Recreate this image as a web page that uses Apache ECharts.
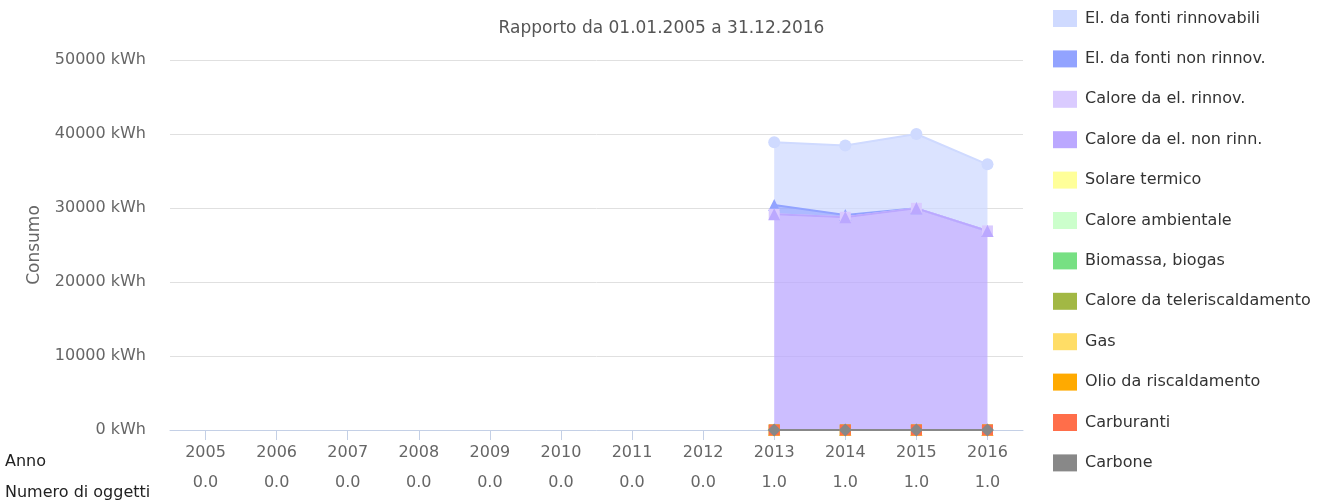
<!DOCTYPE html>
<html>
<head>
<meta charset="utf-8">
<script src="https://cdn.jsdelivr.net/npm/echarts@6/dist/echarts.min.js"></script>
<style>
  html, body { margin: 0; padding: 0; background: #fff; }
  #chart { width: 1323px; height: 502px; }
</style>
</head>
<body>
<div id="chart"></div>
<script>
// categories
const years = ['2005', '2006', '2007', '2008', '2009', '2010', '2011', '2012', '2013', '2014', '2015', '2016']
const objectCounts = [0, 0, 0, 0, 0, 0, 0, 0, 1, 1, 1, 1]

// series values (kWh), null where no data
const elRinnovabili = [null, null, null, null, null, null, null, null, 8500, 9400, 10050, 9000]
const elNonRinnov = [null, null, null, null, null, null, null, null, 1250, 300, 0, 0]
const caloreElRinnov = [null, null, null, null, null, null, null, null, 0, 0, 0, 0]
const caloreElNonRinn = [null, null, null, null, null, null, null, null, 29150, 28750, 29950, 26900]
const solareTermico = [null, null, null, null, null, null, null, null, 0, 0, 0, 0]
const caloreAmbientale = [null, null, null, null, null, null, null, null, 0, 0, 0, 0]
const biomassa = [null, null, null, null, null, null, null, null, 0, 0, 0, 0]
const teleriscaldamento = [null, null, null, null, null, null, null, null, 0, 0, 0, 0]
const gas = [null, null, null, null, null, null, null, null, 0, 0, 0, 0]
const olio = [null, null, null, null, null, null, null, null, 0, 0, 0, 0]
const carburanti = [null, null, null, null, null, null, null, null, 0, 0, 0, 0]
const carbone = [null, null, null, null, null, null, null, null, 0, 0, 0, 0]

const yTicks = [0, 10000, 20000, 30000, 40000, 50000]

const font = 'DejaVu Sans'

const seriesDefs = [
  { name: 'El. da fonti rinnovabili', data: elRinnovabili, color: '#cfdaff', symbol: 'circle', size: 12 },
  { name: 'El. da fonti non rinnov.', data: elNonRinnov, color: '#92a3ff', symbol: 'triangle', size: 12 },
  { name: 'Calore da el. rinnov.', data: caloreElRinnov, color: '#dacbff', symbol: 'rect', size: 11 },
  { name: 'Calore da el. non rinn.', data: caloreElNonRinn, color: '#bba8ff', symbol: 'triangle', size: 12 },
  { name: 'Solare termico', data: solareTermico, color: '#ffff99', symbol: 'circle', size: 11 },
  { name: 'Calore ambientale', data: caloreAmbientale, color: '#ccffcc', symbol: 'diamond', size: 12 },
  { name: 'Biomassa, biogas', data: biomassa, color: '#77e083', symbol: 'rect', size: 11 },
  { name: 'Calore da teleriscaldamento', data: teleriscaldamento, color: '#a2b844', symbol: 'triangle', size: 12 },
  { name: 'Gas', data: gas, color: '#ffdd66', symbol: 'triangle', size: 12 },
  { name: 'Olio da riscaldamento', data: olio, color: '#ffaa00', symbol: 'rect', size: 11 },
  { name: 'Carburanti', data: carburanti, color: '#ff6e4a', symbol: 'rect', size: 11 },
  { name: 'Carbone', data: carbone, color: '#888888', symbol: 'diamond', size: 13 }
]

const chart = echarts.init(document.getElementById('chart'))
chart.setOption({
  animation: false,
  textStyle: { fontFamily: font },
  title: {
    text: 'Rapporto da 01.01.2005 a 31.12.2016',
    left: 'center',
    top: 20,
    padding: 0,
    textStyle: { fontFamily: font, fontSize: 17, fontWeight: 'normal', color: '#555' }
  },
  legend: {
    orient: 'vertical',
    left: 1053,
    top: 10,
    padding: 0,
    icon: 'rect',
    itemWidth: 24,
    itemHeight: 17,
    itemGap: 23.4,
    textStyle: { fontFamily: font, fontSize: 16, color: '#333', lineHeight: 17, padding: [0, 0, 0, 3] },
    data: seriesDefs.map(s => s.name)
  },
  grid: { left: 170, right: 300, top: 60, bottom: 72 },
  xAxis: {
    type: 'category',
    data: years,
    boundaryGap: true,
    axisLine: { lineStyle: { color: '#c4d0e6', width: 1 } },
    axisTick: { show: true, alignWithLabel: true, length: 10, lineStyle: { color: '#c4d0e6', width: 1 } },
    axisLabel: {
      margin: 8,
      interval: 0,
      color: '#666',
      fontSize: 16,
      lineHeight: 30,
      formatter: (v, i) => v + '\n' + objectCounts[i].toFixed(1)
    }
  },
  yAxis: {
    type: 'value',
    min: yTicks[0],
    max: yTicks[yTicks.length - 1],
    interval: 10000,
    name: 'Consumo',
    nameLocation: 'middle',
    nameGap: 127,
    nameRotate: 90,
    nameTextStyle: { fontFamily: font, fontSize: 17, color: '#666' },
    axisLine: { show: false },
    axisTick: { show: false },
    axisLabel: { margin: 24, color: '#666', fontSize: 16, formatter: v => v + ' kWh' },
    splitLine: { lineStyle: { color: '#e0e0e0', width: 1 } }
  },
  graphic: [
    { type: 'text', left: 5, top: 454, style: { text: 'Anno', font: '16px "DejaVu Sans"', fill: '#222' } },
    { type: 'text', left: 5, top: 485, style: { text: 'Numero di oggetti', font: '16px "DejaVu Sans"', fill: '#222' } }
  ],
  series: seriesDefs.map(s => ({
    name: s.name,
    type: 'line',
    stack: 'consumo',
    stackOrder: 'seriesDesc',
    data: s.data,
    color: s.color,
    symbol: s.symbol,
    symbolSize: s.size,
    showSymbol: true,
    lineStyle: { width: 2, color: s.color },
    itemStyle: { color: s.color },
    areaStyle: { color: s.color, opacity: 0.75 }
  }))
})
</script>
</body>
</html>
